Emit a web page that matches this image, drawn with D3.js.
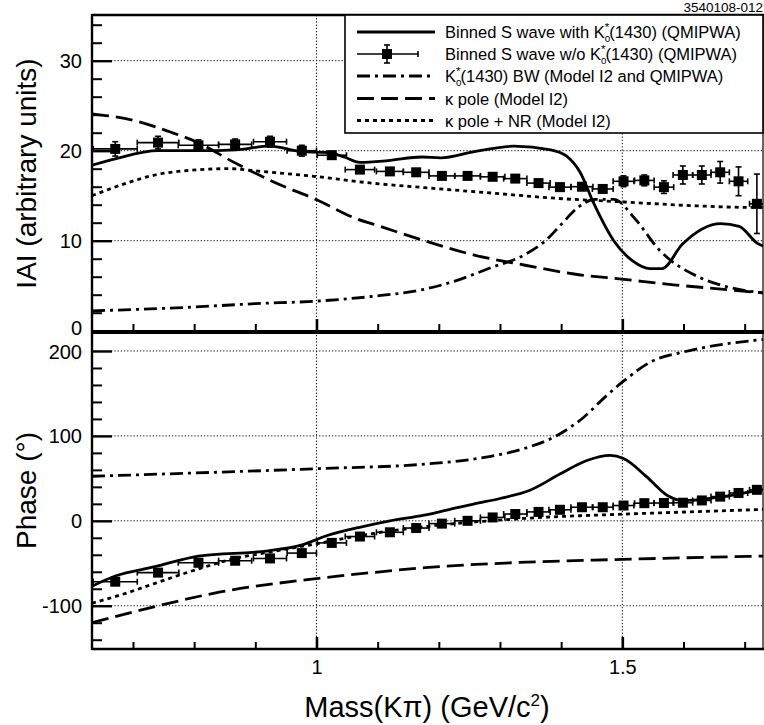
<!DOCTYPE html>
<html>
<head>
<meta charset="utf-8">
<script src="https://cdn.jsdelivr.net/npm/d3@7"></script>
<style>
  html, body { margin: 0; padding: 0; background: #fff; }
  svg { display: block; font-family: "Liberation Sans", Arial, Helvetica, sans-serif; }
</style>
</head>
<body>
<svg id="chart" width="764" height="725"></svg>
<script>
// ---------------- data ----------------
const massDomain = [0.633, 1.73];
const magDomain = [0, 35];
const phaseDomain = [-150, 220];

// Binned S wave w/o K0*(1430) (QMIPWA) — points with errors
const binMass      = [0.671, 0.741, 0.807, 0.867, 0.924, 0.976, 1.025, 1.071, 1.120, 1.163, 1.205, 1.247, 1.288, 1.325, 1.363, 1.398, 1.434, 1.468, 1.502, 1.536, 1.568, 1.599, 1.630, 1.660, 1.690, 1.720];
const binHalfWidth = [0.036, 0.034, 0.033, 0.027, 0.027, 0.024, 0.024, 0.024, 0.022, 0.021, 0.021, 0.021, 0.020, 0.019, 0.019, 0.018, 0.018, 0.017, 0.017, 0.016, 0.016, 0.016, 0.015, 0.015, 0.015, 0.012];
const binMag       = [20.2, 20.9, 20.6, 20.7, 21.0, 20.0, 19.5, 17.9, 17.7, 17.6, 17.2, 17.2, 17.1, 16.9, 16.4, 15.95, 16.0, 15.75, 16.6, 16.7, 15.95, 17.3, 17.3, 17.6, 16.6, 14.1];
const binMagErr    = [0.8, 0.7, 0.6, 0.6, 0.6, 0.6, 0.4, 0.4, 0.3, 0.3, 0.3, 0.3, 0.3, 0.3, 0.4, 0.4, 0.4, 0.4, 0.6, 0.6, 0.7, 1.0, 1.0, 1.2, 1.6, 3.3];
const binPhase     = [-71.7, -61, -49.4, -47, -44.3, -38, -26, -18.5, -13.5, -8.5, -3.3, 0, 4, 8, 10.5, 13, 16, 16, 18, 20.8, 21, 21.3, 24, 28.5, 32.8, 36.5];
const binPhaseErr  = [3, 3, 2.5, 2.5, 2.5, 2.5, 2, 2, 2, 2, 2, 2, 2, 2, 2, 2, 2, 2, 2, 2, 2, 2, 2.5, 2.5, 3, 3];

// Binned S wave with K0*(1430) (QMIPWA) — solid
const withMagMass = [0.633, 0.671, 0.741, 0.807, 0.867, 0.924, 0.975, 1.019, 1.045, 1.071, 1.117, 1.172, 1.203, 1.258, 1.323, 1.383, 1.409, 1.431, 1.453, 1.486, 1.518, 1.545, 1.565, 1.598, 1.661, 1.691, 1.721, 1.730];
const withMag     = [18.4, 19.1, 20.0, 20.0, 20.1, 20.5, 19.9, 19.8, 19.3, 18.7, 18.9, 19.3, 19.2, 19.9, 20.5, 20.1, 19.4, 17.6, 14.2, 10.0, 7.7, 6.9, 6.9, 9.6, 11.9, 11.6, 9.7, 9.4];
const withPhaseMass = [0.633, 0.671, 0.736, 0.807, 0.921, 0.975, 1.019, 1.074, 1.120, 1.176, 1.213, 1.258, 1.300, 1.349, 1.398, 1.442, 1.480, 1.502, 1.540, 1.573, 1.600, 1.649, 1.690, 1.730];
const withPhase     = [-77, -65, -54, -41.5, -35.3, -28.6, -17, -7, 0, 6.7, 12.6, 20, 26.3, 36, 55, 71, 77, 73.4, 51.8, 30.2, 23.8, 27, 31.5, 37];

// K0*(1430) BW (Model I2 and QMIPWA) — dash-dot
const bwMagMass = [0.633, 0.790, 0.899, 1.003, 1.090, 1.176, 1.230, 1.285, 1.339, 1.376, 1.400, 1.426, 1.455, 1.486, 1.520, 1.560, 1.627, 1.670, 1.730];
const bwMag     = [2.2, 2.6, 3.0, 3.3, 3.8, 4.6, 5.6, 7.0, 8.4, 10.1, 11.8, 13.6, 14.6, 14.6, 12.5, 9.0, 5.9, 4.9, 4.2];
const bwPhaseMass = [0.633, 1.003, 1.176, 1.285, 1.339, 1.394, 1.437, 1.475, 1.503, 1.546, 1.601, 1.666, 1.730];
const bwPhase     = [52.5, 61.5, 66.7, 76, 85, 100.8, 122, 148, 165, 187, 199, 208, 213.5];

// kappa pole (Model I2) — dashed
const kapMagMass = [0.633, 0.705, 0.760, 0.803, 0.868, 0.931, 1.002, 1.063, 1.104, 1.176, 1.258, 1.339, 1.421, 1.503, 1.584, 1.666, 1.730];
const kapMag     = [24.1, 23.3, 22.1, 21.0, 18.6, 16.5, 14.5, 12.5, 11.6, 10.0, 8.4, 7.3, 6.3, 5.7, 5.1, 4.6, 4.2];
const kapPhaseMass = [0.633, 0.736, 0.845, 1.003, 1.104, 1.183, 1.300, 1.500, 1.730];
const kapPhase     = [-120, -101, -83.5, -67.8, -60, -54.8, -50, -45.4, -41.5];

// kappa pole + NR (Model I2) — dotted
const nrMagMass = [0.633, 0.681, 0.736, 0.790, 0.856, 0.910, 1.003, 1.090, 1.176, 1.285, 1.394, 1.503, 1.612, 1.710, 1.730];
const nrMag     = [15.0, 16.2, 17.3, 17.8, 18.0, 17.7, 17.1, 16.4, 15.9, 15.3, 14.7, 14.3, 13.9, 13.7, 13.7];
const nrPhaseMass = [0.633, 0.681, 0.736, 0.801, 0.867, 0.930, 1.000, 1.100, 1.176, 1.339, 1.503, 1.612, 1.730];
const nrPhase     = [-97, -87, -73.6, -58, -44.3, -36, -27, -14, -7, 2.8, 7.9, 10.6, 13.4];

// ticks & labels
const massMinorTicks = [0.7, 0.8, 0.9, 1.1, 1.2, 1.3, 1.4, 1.6, 1.7];
const massMajorTicks = [1, 1.5];
const magMinorTicks = [2, 4, 6, 8, 12, 14, 16, 18, 22, 24, 26, 28, 32, 34];
const magMajorTicks = [0, 10, 20, 30];
const phaseMinorTicks = [-140, -120, -80, -60, -40, -20, 20, 40, 60, 80, 120, 140, 160, 180];
const phaseMajorTicks = [-100, 0, 100, 200];

const legendLabels = [
  ["Binned S wave with K", "(1430) (QMIPWA)"],
  ["Binned S wave w/o K", "(1430) (QMIPWA)"],
  ["K", "(1430) BW (Model I2 and QMIPWA)"],
  ["κ pole (Model I2)"],
  ["κ pole + NR (Model I2)"]
];
const figureId = "3540108-012";

// ---------------- styles ----------------
const STY = { solid: null, dashdot: "13,5,3,5", dashed: "17,7", dotted: "4,4" };

// ---------------- layout ----------------
const svg = d3.select("#chart");
const L = 92, R = 763;
const topY0 = 15, topY1 = 332;
const botY0 = 332, botY1 = 649;

const x = d3.scaleLinear().domain(massDomain).range([L, R]);
const yMag = d3.scaleLinear().domain(magDomain).range([330.7, 15.7]);
const yPh = d3.scaleLinear().domain(phaseDomain).range([648.2, 334.0]);

const defs = svg.append("defs");
defs.append("clipPath").attr("id", "clipTop").append("rect")
  .attr("x", L).attr("y", topY0).attr("width", R - L).attr("height", topY1 - topY0);
defs.append("clipPath").attr("id", "clipBot").append("rect")
  .attr("x", L).attr("y", botY0).attr("width", R - L).attr("height", botY1 - botY0);

// ---------------- grids ----------------
const grid = svg.append("g").attr("stroke", "#000").attr("stroke-width", 1).attr("stroke-dasharray", "1.2,2");
massMajorTicks.forEach(m => {
  grid.append("line").attr("x1", x(m)).attr("x2", x(m)).attr("y1", topY0).attr("y2", botY1);
});
magMajorTicks.filter(v => v > 0).forEach(v => {
  grid.append("line").attr("x1", L).attr("x2", R).attr("y1", yMag(v)).attr("y2", yMag(v));
});
phaseMajorTicks.forEach(v => {
  grid.append("line").attr("x1", L).attr("x2", R).attr("y1", yPh(v)).attr("y2", yPh(v));
});

// ---------------- curves ----------------
function drawCurve(clip, ms, vs, yS, dash, w) {
  const line = d3.line().x(d => x(d[0])).y(d => yS(d[1])).curve(d3.curveMonotoneX);
  const p = svg.append("path")
    .attr("clip-path", `url(#${clip})`)
    .attr("d", line(ms.map((m, i) => [m, vs[i]])))
    .attr("fill", "none").attr("stroke", "#000")
    .attr("stroke-width", w || 2.8)
    .attr("stroke-linejoin", "round");
  if (dash) p.attr("stroke-dasharray", dash);
}
drawCurve("clipTop", kapMagMass, kapMag, yMag, STY.dashed);
drawCurve("clipTop", nrMagMass, nrMag, yMag, STY.dotted);
drawCurve("clipTop", bwMagMass, bwMag, yMag, STY.dashdot);
drawCurve("clipTop", withMagMass, withMag, yMag, null);
drawCurve("clipBot", kapPhaseMass, kapPhase, yPh, STY.dashed);
drawCurve("clipBot", nrPhaseMass, nrPhase, yPh, STY.dotted);
drawCurve("clipBot", bwPhaseMass, bwPhase, yPh, STY.dashdot);
drawCurve("clipBot", withPhaseMass, withPhase, yPh, null);

// ---------------- points with error bars ----------------
function drawPoints(clip, vals, errs, yS) {
  const g = svg.append("g").attr("clip-path", `url(#${clip})`)
    .attr("stroke", "#000").attr("stroke-width", 1.6);
  binMass.forEach((m, i) => {
    const cx = x(m), cy = yS(vals[i]);
    const x0 = x(m - binHalfWidth[i]), x1 = x(m + binHalfWidth[i]);
    const yA = yS(vals[i] + errs[i]), yB = yS(vals[i] - errs[i]);
    g.append("line").attr("x1", x0).attr("x2", x1).attr("y1", cy).attr("y2", cy);
    g.append("line").attr("x1", x0).attr("x2", x0).attr("y1", cy - 3).attr("y2", cy + 3);
    g.append("line").attr("x1", x1).attr("x2", x1).attr("y1", cy - 3).attr("y2", cy + 3);
    g.append("line").attr("x1", cx).attr("x2", cx).attr("y1", yA).attr("y2", yB);
    g.append("line").attr("x1", cx - 3).attr("x2", cx + 3).attr("y1", yA).attr("y2", yA);
    g.append("line").attr("x1", cx - 3).attr("x2", cx + 3).attr("y1", yB).attr("y2", yB);
    g.append("rect").attr("x", cx - 5).attr("y", cy - 5).attr("width", 10).attr("height", 10)
      .attr("fill", "#000").attr("stroke", "none");
  });
}
drawPoints("clipTop", binMag, binMagErr, yMag);
drawPoints("clipBot", binPhase, binPhaseErr, yPh);

// ---------------- axes ----------------
const plainFmt = d => String(d);
function styleAxis(g, w, fs) {
  g.select(".domain").remove();
  g.selectAll(".tick line").attr("stroke", "#000").attr("stroke-width", w);
  g.selectAll(".tick text").attr("fill", "#000").attr("font-size", fs || 20)
    .attr("font-family", '"Liberation Sans", Arial, Helvetica, sans-serif');
  return g;
}
styleAxis(svg.append("g").attr("transform", `translate(${L},0)`)
  .call(d3.axisLeft(yMag).tickValues(magMinorTicks).tickSize(-10).tickFormat("")), 2);
const magAx = styleAxis(svg.append("g").attr("transform", `translate(${L},0)`)
  .call(d3.axisLeft(yMag).tickValues(magMajorTicks).tickSize(-20).tickPadding(10).tickFormat(plainFmt)), 2.4, 20);
magAx.selectAll(".tick text").filter(d => d === 0).attr("y", -2.5);
styleAxis(svg.append("g").attr("transform", `translate(${L},0)`)
  .call(d3.axisLeft(yPh).tickValues(phaseMinorTicks).tickSize(-10).tickFormat("")), 2);
const phAx = styleAxis(svg.append("g").attr("transform", `translate(${L},0)`)
  .call(d3.axisLeft(yPh).tickValues(phaseMajorTicks).tickSize(-20).tickPadding(10).tickFormat(plainFmt)), 2.4, 20);
phAx.selectAll(".tick text").filter(d => d === 200).attr("y", 1.5);
styleAxis(svg.append("g").attr("transform", `translate(0,${topY1})`)
  .call(d3.axisBottom(x).tickValues(massMinorTicks).tickSize(-8).tickFormat("")), 2);
styleAxis(svg.append("g").attr("transform", `translate(0,${topY1})`)
  .call(d3.axisBottom(x).tickValues(massMajorTicks).tickSize(-13).tickFormat("")), 2.6);
styleAxis(svg.append("g").attr("transform", `translate(0,${botY1})`)
  .call(d3.axisBottom(x).tickValues(massMinorTicks).tickSize(-7).tickFormat("")), 2);
styleAxis(svg.append("g").attr("transform", `translate(0,${botY1})`)
  .call(d3.axisBottom(x).tickValues(massMajorTicks).tickSize(-12).tickPadding(11).tickFormat(plainFmt)), 2.6, 20);

// ---------------- frame ----------------
const frame = svg.append("g").attr("stroke", "#000").attr("fill", "none");
frame.append("line").attr("x1", L).attr("x2", L).attr("y1", topY0 - 1).attr("y2", botY1 + 1).attr("stroke-width", 2.4);
frame.append("line").attr("x1", L).attr("x2", R + 1).attr("y1", topY0).attr("y2", topY0).attr("stroke-width", 2.6);
frame.append("line").attr("x1", L).attr("x2", R + 1).attr("y1", topY1).attr("y2", topY1).attr("stroke-width", 4);
frame.append("line").attr("x1", L).attr("x2", R + 1).attr("y1", botY1).attr("y2", botY1).attr("stroke-width", 2.6);
frame.append("line").attr("x1", R).attr("x2", R).attr("y1", topY0).attr("y2", botY1).attr("stroke-width", 1.2);

// ---------------- legend ----------------
const lg = svg.append("g");
lg.append("rect").attr("x", 345).attr("y", 15).attr("width", R - 345).attr("height", 118)
  .attr("fill", "#fff").attr("stroke", "#000").attr("stroke-width", 1.6);
const rowY = [32, 54, 76, 98.5, 120.5];
const rowStyle = [STY.solid, "points", STY.dashdot, STY.dashed, STY.dotted];
rowStyle.forEach((s, i) => {
  const yy = rowY[i];
  if (s === "points") {
    const g = lg.append("g").attr("stroke", "#000").attr("stroke-width", 1.6);
    g.append("line").attr("x1", 357).attr("x2", 418).attr("y1", yy).attr("y2", yy);
    g.append("line").attr("x1", 418).attr("x2", 418).attr("y1", yy - 3).attr("y2", yy + 3);
    g.append("line").attr("x1", 387).attr("x2", 387).attr("y1", yy - 9).attr("y2", yy + 9);
    g.append("line").attr("x1", 384).attr("x2", 390).attr("y1", yy - 9).attr("y2", yy - 9);
    g.append("line").attr("x1", 384).attr("x2", 390).attr("y1", yy + 9).attr("y2", yy + 9);
    g.append("rect").attr("x", 382).attr("y", yy - 5).attr("width", 10).attr("height", 10).attr("fill", "#000").attr("stroke", "none");
  } else {
    const l = lg.append("line").attr("x1", 357).attr("x2", 435).attr("y1", yy).attr("y2", yy)
      .attr("stroke", "#000").attr("stroke-width", 2.8);
    if (s) l.attr("stroke-dasharray", s);
  }
});

function legendTexts(fs) {
  const k = fs / 17;
  const g = lg.append("g");
  legendLabels.forEach((parts, i) => {
    const yy = rowY[i];
    const t = g.append("text").attr("x", 445).attr("y", yy + 6).attr("font-size", fs).attr("fill", "#000");
    t.append("tspan").text(parts[0]);
    if (parts.length > 1) {
      t.append("tspan").attr("font-size", 10 * k).attr("dy", 4 * k).text("0");
      t.append("tspan").attr("font-size", 12 * k).attr("dx", -5.6 * k).attr("dy", -11 * k).text("*");
      t.append("tspan").attr("dy", 7 * k).text(parts[1]);
    }
  });
  return g;
}
// fit legend font so that the first row spans the same width as in the reference
let probe = legendTexts(17);
const w1 = probe.select("text").node().getBBox().width;
probe.remove();
legendTexts(Math.max(14, Math.min(19, 17 * 296 / w1)));

// ---------------- titles ----------------
svg.append("text").attr("x", R).attr("y", 12).attr("text-anchor", "end")
  .attr("font-size", 13.5).text(figureId);

svg.append("text").attr("transform", `translate(36,${(topY0 + topY1) / 2}) rotate(-90)`)
  .attr("text-anchor", "middle").attr("font-size", 28).text("IAI (arbitrary units)");
svg.append("text").attr("transform", `translate(36,${(botY0 + botY1) / 2}) rotate(-90)`)
  .attr("text-anchor", "middle").attr("font-size", 28).text("Phase (°)");

const xt = svg.append("text").attr("x", 427).attr("y", 717).attr("text-anchor", "middle").attr("font-size", 29);
xt.append("tspan").text("Mass(Kπ) (GeV/c");
xt.append("tspan").attr("font-size", 17).attr("dy", -11).text("2");
xt.append("tspan").attr("dy", 11).text(")");
</script>
</body>
</html>
